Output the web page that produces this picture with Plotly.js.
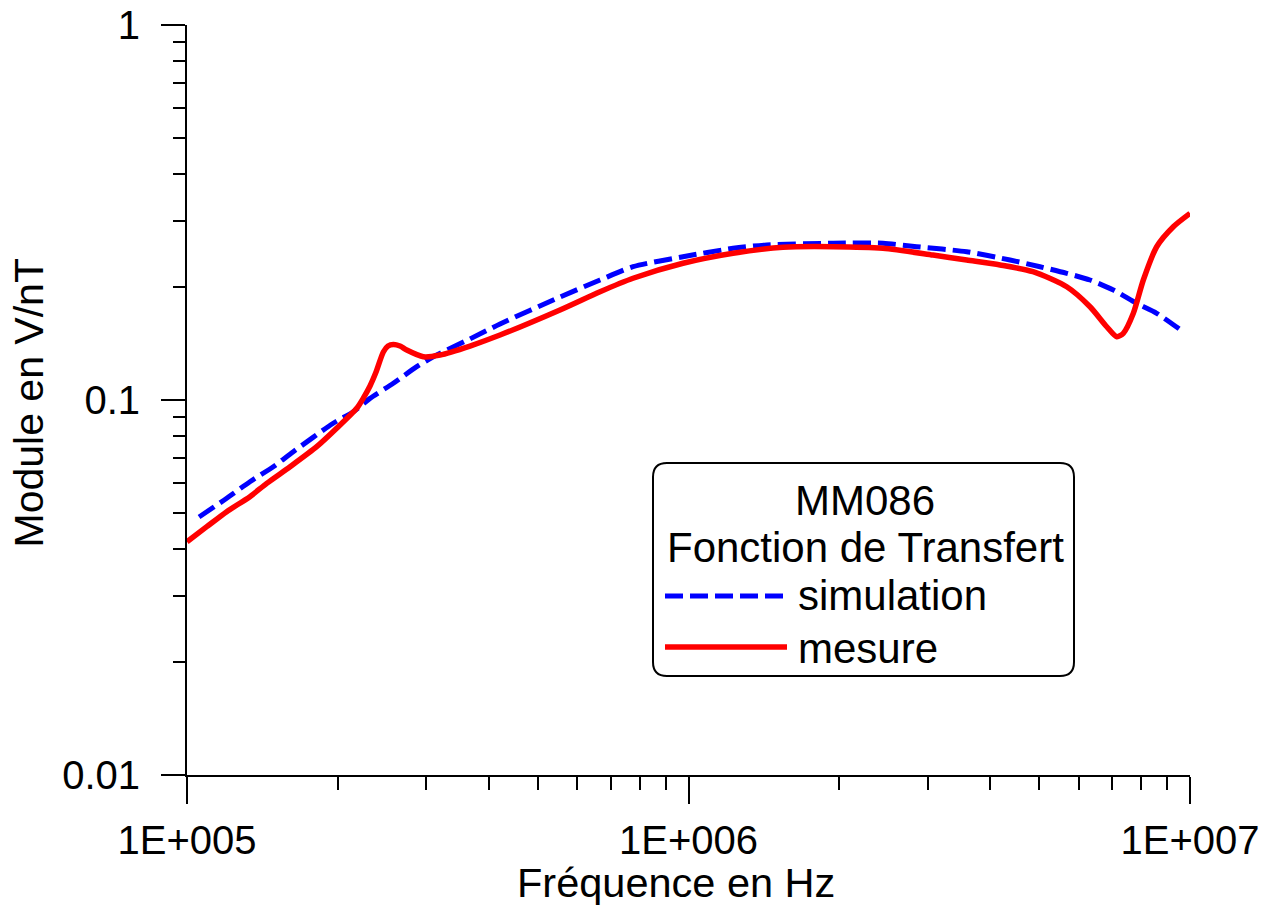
<!DOCTYPE html>
<html>
<head>
<meta charset="utf-8">
<script src="https://cdn.plot.ly/plotly-3.0.1.min.js"></script>
<style>html,body{margin:0;padding:0;background:#fff;}#chart{width:1269px;height:908px;}</style>
</head>
<body>
<div id="chart"></div>
<script>
// Mesure (measured) transfer function
const mesureFreq = [1.0e5, 1.095e5, 1.200e5, 1.335e5, 1.442e5, 1.605e5, 1.814e5, 1.988e5, 2.180e5, 2.247e5, 2.317e5, 2.382e5, 2.463e5, 2.517e5, 2.579e5, 2.659e5, 2.743e5, 2.960e5, 3.195e5, 3.667e5, 4.209e5, 5.542e5, 6.661e5, 7.752e5, 9.750e5, 1.227e6, 1.543e6, 1.942e6, 2.442e6, 3.073e6, 3.587e6, 4.181e6, 4.863e6, 5.678e6, 6.319e6, 6.824e6, 7.144e6, 7.362e6, 7.709e6, 8.071e6, 8.582e6, 9.263e6, 1.0e7];
const mesureVal  = [0.04189, 0.04594, 0.05038, 0.05524, 0.05995, 0.06638, 0.07506, 0.08405, 0.09501, 0.1012, 0.1090, 0.1187, 0.1343, 0.1393, 0.1406, 0.1393, 0.1359, 0.1304, 0.1318, 0.1393, 0.1490, 0.1738, 0.1944, 0.2112, 0.2315, 0.2461, 0.2554, 0.2563, 0.2538, 0.2435, 0.2362, 0.2291, 0.2199, 0.2005, 0.1773, 0.1568, 0.1475, 0.1506, 0.1703, 0.2089, 0.2563, 0.2898, 0.3146];

// Simulation transfer function
const simFreq = [1.057e5, 1.200e5, 1.335e5, 1.486e5, 1.629e5, 1.957e5, 2.146e5, 2.317e5, 2.579e5, 2.871e5, 3.098e5, 3.667e5, 4.209e5, 5.542e5, 6.661e5, 7.752e5, 9.750e5, 1.227e6, 1.432e6, 1.942e6, 2.442e6, 2.851e6, 3.587e6, 4.377e6, 5.022e6, 5.678e6, 6.319e6, 7.032e6, 7.830e6, 8.582e6, 9.641e6];
const simVal  = [0.04875, 0.05470, 0.06055, 0.06638, 0.07279, 0.08669, 0.09307, 0.1010, 0.1108, 0.1227, 0.1304, 0.1455, 0.1595, 0.1882, 0.2089, 0.2267, 0.2410, 0.2538, 0.2591, 0.2618, 0.2618, 0.2563, 0.2485, 0.2362, 0.2267, 0.2177, 0.2089, 0.1965, 0.1810, 0.1703, 0.1528];

// Tick labels
const xTickVals = [1e5, 1e6, 1e7];
const xTickText = ["1E+005", "1E+006", "1E+007"];
const yTickVals = [0.01, 0.1, 1];
const yTickText = ["0.01", "0.1", "1"];
const minorMult = [2, 3, 4, 5, 6, 7, 8, 9];

const xTitle = "Fréquence en Hz";
const yTitle = "Module en V/nT";
const legendTitle1 = "MM086";
const legendTitle2 = "Fonction de Transfert";
const simName = "simulation";
const mesName = "mesure";

const xMinor = [];
[1e5, 1e6].forEach(d => minorMult.forEach(m => xMinor.push(d * m)));
const yMinor = [];
[0.01, 0.1].forEach(d => minorMult.forEach(m => yMinor.push(d * m)));

const FONT = "Liberation Sans, Arial, sans-serif";
const L = 187, R = 79, T = 25, B = 133, W = 1269, H = 908;
const PW = W - L - R, PH = H - T - B;
const PX = x => (x - L) / PW;
const PY = y => (H - B - y) / PH;

function roundRect(x0, y0, x1, y1, r) {
  const p = (x, y) => PX(x).toFixed(5) + "," + PY(y).toFixed(5);
  return "M" + p(x0 + r, y0) + " L" + p(x1 - r, y0) + " Q" + p(x1, y0) + " " + p(x1, y0 + r) +
    " L" + p(x1, y1 - r) + " Q" + p(x1, y1) + " " + p(x1 - r, y1) +
    " L" + p(x0 + r, y1) + " Q" + p(x0, y1) + " " + p(x0, y1 - r) +
    " L" + p(x0, y0 + r) + " Q" + p(x0, y0) + " " + p(x0 + r, y0) + " Z";
}

const traces = [
  {
    x: simFreq, y: simVal, type: "scatter", mode: "lines", name: simName,
    line: {color: "#0000ff", width: 5, dash: "18px,7px", shape: "spline", smoothing: 0.7}
  },
  {
    x: mesureFreq, y: mesureVal, type: "scatter", mode: "lines", name: mesName,
    line: {color: "#ff0000", width: 5.5, shape: "spline", smoothing: 0.7}
  }
];

const tf = (s) => ({family: FONT, size: s, color: "#000"});

const layout = {
  width: W, height: H,
  margin: {l: L, r: R, t: T, b: B, pad: 0},
  paper_bgcolor: "#ffffff", plot_bgcolor: "#ffffff",
  showlegend: false,
  font: tf(40),
  xaxis: {
    type: "log", range: [5, 7], showgrid: false, zeroline: false,
    showline: true, linecolor: "#000", linewidth: 2,
    tickmode: "array", tickvals: xTickVals, ticktext: xTickText,
    ticks: "outside", ticklen: 27, tickwidth: 2, tickcolor: "#000",
    ticklabelstandoff: 2,
    tickfont: tf(40),
    minor: {tickmode: "array", tickvals: xMinor, ticks: "outside", ticklen: 13, tickwidth: 2, tickcolor: "#000", showgrid: false},
    automargin: false
  },
  yaxis: {
    type: "log", range: [-2, 0], showgrid: false, zeroline: false,
    showline: true, linecolor: "#000", linewidth: 2,
    tickmode: "array", tickvals: yTickVals, ticktext: yTickText,
    ticks: "outside", ticklen: 24, tickwidth: 2, tickcolor: "#000",
    ticklabelstandoff: 13,
    tickfont: tf(40),
    minor: {tickmode: "array", tickvals: yMinor, ticks: "outside", ticklen: 12, tickwidth: 2, tickcolor: "#000", showgrid: false},
    automargin: false
  },
  shapes: [
    {type: "path", xref: "paper", yref: "paper", path: roundRect(653, 463, 1074, 676, 14),
     line: {color: "#000", width: 2}, fillcolor: "rgba(255,255,255,0)"},
    {type: "line", xref: "paper", yref: "paper", x0: PX(665), x1: PX(784), y0: PY(596), y1: PY(596),
     line: {color: "#0000ff", width: 5, dash: "18px,7px"}},
    {type: "line", xref: "paper", yref: "paper", x0: PX(665), x1: PX(787), y0: PY(647), y1: PY(647),
     line: {color: "#ff0000", width: 5.5}}
  ],
  annotations: [
    {xref: "paper", yref: "paper", x: PX(676), y: PY(883), xanchor: "center", yanchor: "middle", showarrow: false, text: xTitle, font: tf(41.5)},
    {xref: "paper", yref: "paper", x: PX(28.5), y: PY(403), xanchor: "center", yanchor: "middle", showarrow: false, textangle: -90, text: yTitle, font: tf(41)},
    {xref: "paper", yref: "paper", x: PX(865), y: PY(500), xanchor: "center", yanchor: "middle", showarrow: false, text: legendTitle1, font: tf(42)},
    {xref: "paper", yref: "paper", x: PX(865), y: PY(547), xanchor: "center", yanchor: "middle", showarrow: false, text: legendTitle2, font: tf(42)},
    {xref: "paper", yref: "paper", x: PX(796), y: PY(595.5), xanchor: "left", yanchor: "middle", showarrow: false, text: simName, font: tf(42)},
    {xref: "paper", yref: "paper", x: PX(796), y: PY(648.5), xanchor: "left", yanchor: "middle", showarrow: false, text: mesName, font: tf(42)}
  ]
};

Plotly.newPlot("chart", traces, layout, {displayModeBar: false, staticPlot: true});
</script>
</body>
</html>
